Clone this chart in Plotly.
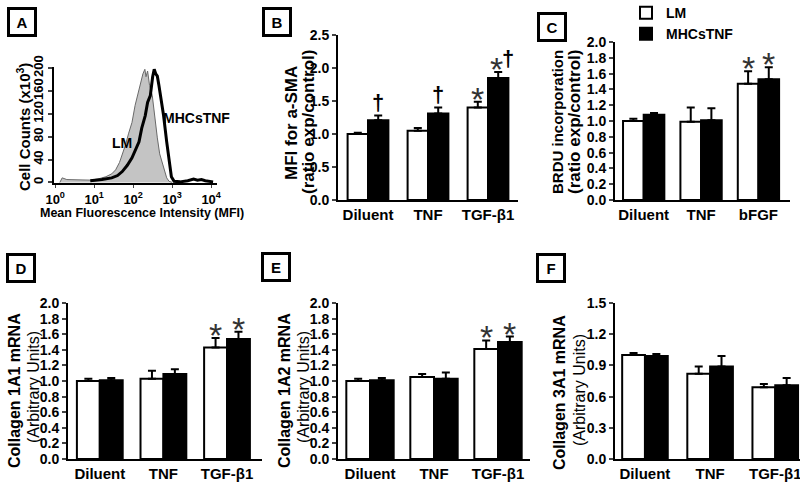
import plotly.graph_objects as go

W, H = 800, 488
FONT = "Liberation Sans, Arial, sans-serif"

# ---------------- Panel A: flow histogram ----------------
lm_log_mfi = [0.12, 0.18, 0.3, 0.6, 0.9, 1.1, 1.3, 1.45, 1.55, 1.65, 1.72, 1.8, 1.88, 1.97,
              2.05, 2.1, 2.15, 2.2, 2.25, 2.3, 2.33, 2.37, 2.42, 2.49, 2.55, 2.62, 2.68,
              2.74, 2.8, 2.86, 2.92, 3.0]
lm_counts = [0, 8, 5, 4, 4, 6, 10, 15, 22, 35, 48, 65, 85, 105,
             135, 150, 164, 175, 190, 198, 185, 195, 170, 152, 115, 78, 50,
             36, 20, 8, 2, 0]
mhc_log_mfi = [0.9, 1.2, 1.45, 1.6, 1.72, 1.85, 1.97, 2.05, 2.15, 2.22, 2.31, 2.37, 2.44,
               2.5, 2.54, 2.58, 2.62, 2.66, 2.7, 2.78, 2.86, 2.93, 2.98, 3.05, 3.2, 3.4,
               3.55, 3.65, 3.75, 3.85, 3.95, 4.05]
mhc_counts = [3, 5, 8, 12, 19, 30, 43, 55, 71, 95, 117, 140, 152,
              185, 198, 190, 186, 170, 152, 117, 71, 31, 10, 2, 1, 3,
              6, 4, 5, 3, 2, 1]
a_xtick_vals = [1, 10, 100, 1000, 10000]
a_xtick_text = ["10<sup>0</sup>", "10<sup>1</sup>", "10<sup>2</sup>", "10<sup>3</sup>", "10<sup>4</sup>"]
a_ytick_vals = [0, 40, 80, 120, 160, 200]

# ---------------- Bar panels ----------------
series_names = ["LM", "MHCsTNF"]

b_cats = ["Diluent", "TNF", "TGF-β1"]
b_lm = [1.00, 1.05, 1.40]
b_lm_err = [0.02, 0.04, 0.09]
b_mhc = [1.21, 1.31, 1.85]
b_mhc_err = [0.07, 0.09, 0.09]
b_sig_lm = ["", "", "*"]
b_sig_mhc = ["†", "†", "*†"]

c_cats = ["Diluent", "TNF", "bFGF"]
c_lm = [1.00, 0.99, 1.47]
c_lm_err = [0.03, 0.18, 0.16]
c_mhc = [1.08, 1.01, 1.53]
c_mhc_err = [0.02, 0.15, 0.15]
c_sig_lm = ["", "", "*"]
c_sig_mhc = ["", "", "*"]

d_cats = ["Diluent", "TNF", "TGF-β1"]
d_lm = [1.00, 1.03, 1.43]
d_lm_err = [0.03, 0.10, 0.12]
d_mhc = [1.01, 1.09, 1.54]
d_mhc_err = [0.03, 0.06, 0.09]
d_sig_lm = ["", "", "*"]
d_sig_mhc = ["", "", "*"]

e_cats = ["Diluent", "TNF", "TGF-β1"]
e_lm = [1.00, 1.05, 1.41]
e_lm_err = [0.03, 0.04, 0.11]
e_mhc = [1.01, 1.03, 1.50]
e_mhc_err = [0.03, 0.08, 0.07]
e_sig_lm = ["", "", "*"]
e_sig_mhc = ["", "", "*"]

f_cats = ["Diluent", "TNF", "TGF-β1"]
f_lm = [1.00, 0.82, 0.69]
f_lm_err = [0.02, 0.07, 0.03]
f_mhc = [0.99, 0.89, 0.71]
f_mhc_err = [0.02, 0.10, 0.07]
f_sig_lm = ["", "", ""]
f_sig_mhc = ["", "", ""]


def px(x):
    return x / W


def py(y):
    return 1 - y / H


def ptext(text, x, y, size, weight="bold", angle=0, **kw):
    d = dict(text=text, x=px(x), y=py(y), xref="paper", yref="paper",
             xanchor="center", yanchor="middle", textangle=angle, showarrow=False,
             font=dict(size=size, weight=weight))
    d.update(kw)
    return d


fig = go.Figure()
layout = dict(
    width=W, height=H, margin=dict(l=0, r=0, t=0, b=0, pad=0, autoexpand=False),
    paper_bgcolor="white", plot_bgcolor="white",
    font=dict(family=FONT, color="black", size=14),
    barmode="overlay",
    showlegend=True,
    legend=dict(x=px(626), y=1.006, xanchor="left", yanchor="top",
                font=dict(family=FONT, size=14, weight="bold"),
                bgcolor="rgba(0,0,0,0)", tracegroupgap=0),
)
annotations = []

# Panel A traces
fig.add_trace(go.Scatter(x=[10 ** v for v in lm_log_mfi], y=lm_counts, mode="lines",
                         fill="tozeroy", fillcolor="#c4c4c4",
                         line=dict(color="#6a6a6a", width=1), xaxis="x", yaxis="y",
                         showlegend=False))
fig.add_trace(go.Scatter(x=[10 ** v for v in mhc_log_mfi], y=mhc_counts, mode="lines",
                         line=dict(color="black", width=3), xaxis="x", yaxis="y",
                         showlegend=False))

axis_common = dict(showline=True, linecolor="black", linewidth=2, showgrid=False,
                   zeroline=False, mirror=False, automargin=False,
                   ticklabeloverflow="allow")

layout["xaxis"] = dict(axis_common, domain=[px(54), px(217)], anchor="y", type="log",
                       range=[-0.03, 4.15], tickvals=a_xtick_vals, ticktext=a_xtick_text,
                       ticks="outside", ticklen=3, tickwidth=1,
                       tickfont=dict(size=13, weight="bold"))
layout["yaxis"] = dict(axis_common, domain=[py(183), py(67)], anchor="x", range=[-1, 202],
                       tickvals=a_ytick_vals, tickangle=-90, ticks="outside", ticklen=4,
                       tickwidth=2, tickfont=dict(size=13, weight="bold"))

annotations += [
    ptext("Cell Counts (x10<sup>3</sup>)", 24, 127, 15, angle=-90),
    ptext("Mean Fluorescence Intensity (MFI)", 142, 213, 12.5),
    ptext("LM", 122, 143, 14),
    ptext("MHCsTNF", 196, 118, 14),
]

panels = [
    # name, cats, lm, lm_err, mhc, mhc_err, sig_lm, sig_mhc, xdom, ydom, xrange, yrange, dtick, width, legend
    ("2", b_cats, b_lm, b_lm_err, b_mhc, b_mhc_err, b_sig_lm, b_sig_mhc,
     (338, 518), (200, 35), [-0.5, 2.5], [0, 2.5], 0.5, 0.34, False),
    ("3", c_cats, c_lm, c_lm_err, c_mhc, c_mhc_err, c_sig_lm, c_sig_mhc,
     (615, 790), (200, 42), [-0.5, 2.55], [0, 2.0], 0.2, 0.36, True),
    ("4", d_cats, d_lm, d_lm_err, d_mhc, d_mhc_err, d_sig_lm, d_sig_mhc,
     (68, 262), (459, 303), [-0.5, 2.55], [0, 2.0], 0.2, 0.36, False),
    ("5", e_cats, e_lm, e_lm_err, e_mhc, e_mhc_err, e_sig_lm, e_sig_mhc,
     (338, 530), (459, 303), [-0.5, 2.5], [0, 2.0], 0.2, 0.37, False),
    ("6", f_cats, f_lm, f_lm_err, f_mhc, f_mhc_err, f_sig_lm, f_sig_mhc,
     (615, 800), (459, 303), [-0.46, 2.38], [0, 1.5], 0.3, 0.35, False),
]

SYMBOL_STYLE = {
    "*": dict(size=34, color="#333", yshift=-18, weight="normal"),
    "†": dict(size=22, color="black", yshift=-1, weight="bold"),
}

for (n, cats, lm, lm_err, mhc, mhc_err, sig_lm, sig_mhc, xd, yd, xr, yr, dt, bw, leg) in panels:
    xa, ya = "x" + n, "y" + n
    pos = list(range(len(cats)))
    fig.add_trace(go.Bar(x=pos, y=lm, width=bw, offset=-bw, name=series_names[0],
                         marker=dict(color="white", line=dict(color="black", width=2)),
                         error_y=dict(type="data", array=lm_err, arrayminus=[0] * len(lm),
                                      symmetric=False, color="black", thickness=2, width=4),
                         xaxis=xa, yaxis=ya, showlegend=leg))
    fig.add_trace(go.Bar(x=pos, y=mhc, width=bw, offset=0, name=series_names[1],
                         marker=dict(color="black", line=dict(color="black", width=2)),
                         error_y=dict(type="data", array=mhc_err, arrayminus=[0] * len(mhc),
                                      symmetric=False, color="black", thickness=2, width=4),
                         xaxis=xa, yaxis=ya, showlegend=leg))
    layout["xaxis" + n] = dict(axis_common, domain=[px(xd[0]), px(xd[1])], anchor=ya,
                               range=xr, tickvals=pos, ticktext=cats, ticks="",
                               tickfont=dict(size=15, weight="bold"))
    layout["yaxis" + n] = dict(axis_common, domain=[py(yd[0]), py(yd[1])], anchor=xa,
                               range=yr, dtick=dt, tick0=0, tickformat=".1f",
                               ticks="outside", ticklen=4, tickwidth=2,
                               tickfont=dict(size=14, weight="bold"))
    for i in pos:
        for val, err, sig, off in ((lm[i], lm_err[i], sig_lm[i], -bw / 2),
                                   (mhc[i], mhc_err[i], sig_mhc[i], bw / 2)):
            shifts = [0] if len(sig) == 1 else [-2, 10]
            for ch, xs in zip(sig, shifts):
                st = SYMBOL_STYLE[ch]
                annotations.append(dict(text=ch, x=i + off, y=val + err,
                                        xref=xa, yref=ya,
                                        xanchor="center", yanchor="bottom", showarrow=False,
                                        xshift=xs, yshift=st["yshift"],
                                        font=dict(size=st["size"], color=st["color"],
                                                  weight=st["weight"])))

# y-axis titles for bar panels
titles = [
    ("MFI for a-SMA", 292, 123, 17, "bold"), ("(ratio exp/control)", 308, 122, 17, "bold"),
    ("BRDU incorporation", 557, 122, 15, "bold"), ("(ratio exp/control)", 574, 122, 17, "bold"),
    ("Collagen 1A1 mRNA", 14, 391, 16, "bold"), ("(Arbitrary Units)", 33, 387, 16, "normal"),
    ("Collagen 1A2 mRNA", 284, 391, 16, "bold"), ("(Arbitrary Units)", 303, 387, 16, "normal"),
    ("Collagen 3A1 mRNA", 559, 393, 16, "bold"), ("(Arbitrary Units)", 579, 390, 16, "normal"),
]
for t, x, y, s, wgt in titles:
    annotations.append(ptext(t, x, y, s, weight=wgt, angle=-90))

# panel letter boxes
for letter, x, y in [("A", 22, 22), ("B", 277, 22), ("C", 552, 27),
                     ("D", 21, 268), ("E", 276, 267), ("F", 551, 268)]:
    annotations.append(ptext(letter, x, y, 15, width=20, height=20, borderpad=2,
                             bordercolor="black", borderwidth=3))

layout["annotations"] = annotations
fig.update_layout(**layout)
fig.write_html("out.html", config={"displayModeBar": False},
               post_script="document.body.style.margin='0';")
